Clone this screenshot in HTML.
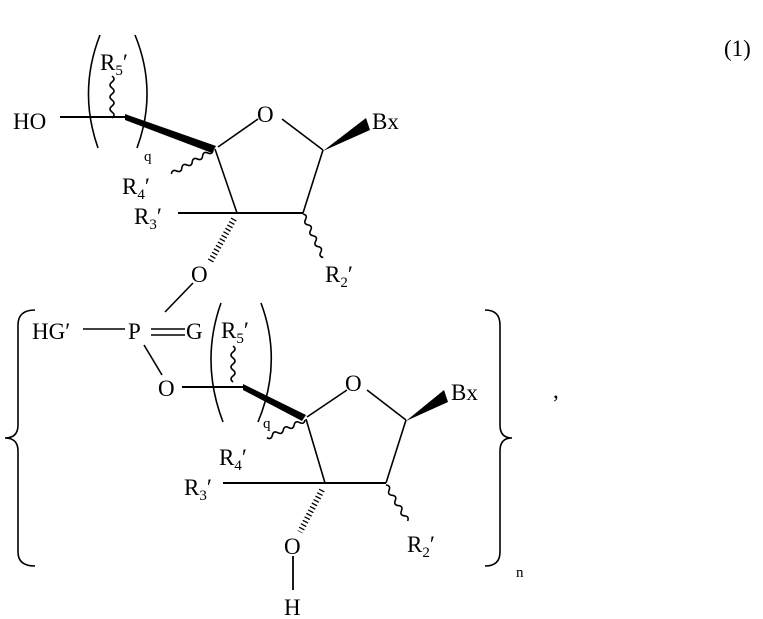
<!DOCTYPE html>
<html><head><meta charset="utf-8"><style>
html,body{margin:0;padding:0;background:#fff;}
svg{display:block}
text{font-family:"Liberation Serif",serif;font-size:23px;fill:#000}
.s{font-size:15px}
</style></head><body>
<svg width="763" height="619" viewBox="0 0 763 619" xmlns="http://www.w3.org/2000/svg">
<g stroke="#000" stroke-width="1.6" fill="none">
<line x1="60" y1="117" x2="126" y2="117" stroke-width="2"/>
<path d="M100 35 Q78 91 98 148"/>
<path d="M135 35 Q158 91 137 148"/>
<line x1="218" y1="147" x2="258" y2="119"/>
<line x1="282" y1="119" x2="323" y2="150"/>
<line x1="323" y1="150" x2="303" y2="213"/>
<line x1="303" y1="213" x2="237" y2="213" stroke-width="2"/>
<line x1="237" y1="213" x2="215" y2="149"/>
<line x1="178" y1="213" x2="237" y2="213" stroke-width="2"/>
<line x1="234" y1="219" x2="210" y2="262" stroke-width="6" stroke-dasharray="1.3 2.6"/>
<line x1="193" y1="283" x2="165" y2="312"/>
<path transform="translate(112,76) rotate(90)" d="M0 0 q3 -4 6 0 t6 0 t6 0 t6 0 t6 0 t6 0 t6 0"/>
<path transform="translate(213,150) rotate(150)" d="M0 0 q3 -4 6 0 t6 0 t6 0 t6 0 t6 0 t6 0 t6 0 t6 0"/>
<path transform="translate(303,214) rotate(65)" d="M0 0 q3 -4 6 0 t6 0 t6 0 t6 0 t6 0 t6 0 t6 0 t6 0"/>
<path d="M35 310 Q18 310 18 325 L18 425 Q18 438 5 438 Q18 438 18 451 L18 552 Q18 566 35 566"/>
<path d="M485 310 Q500 310 500 325 L500 425 Q500 438 512 438 Q500 438 500 451 L500 552 Q500 566 485 566"/>
<line x1="83" y1="329" x2="125" y2="329"/>
<line x1="151" y1="329" x2="185" y2="329"/>
<line x1="151" y1="335" x2="185" y2="335"/>
<line x1="144" y1="345" x2="162" y2="375"/>
<line x1="182" y1="387" x2="243" y2="387" stroke-width="2"/>
<path d="M221 303 Q200 362 223 422"/>
<path d="M261 303 Q283 362 258 422"/>
<line x1="307" y1="417" x2="347" y2="390"/>
<line x1="367" y1="390" x2="406" y2="420"/>
<line x1="406" y1="420" x2="386" y2="483"/>
<line x1="386" y1="483" x2="325" y2="483" stroke-width="2"/>
<line x1="325" y1="483" x2="306" y2="419"/>
<line x1="223" y1="483" x2="325" y2="483" stroke-width="2"/>
<line x1="322" y1="490" x2="300" y2="532" stroke-width="6" stroke-dasharray="1.3 2.6"/>
<line x1="293" y1="556" x2="293" y2="590" stroke-width="1.8"/>
<path transform="translate(233,346) rotate(90)" d="M0 0 q3 -4 6 0 t6 0 t6 0 t6 0 t6 0 t6 0"/>
<path transform="translate(305,420) rotate(155)" d="M0 0 q3 -4 6 0 t6 0 t6 0 t6 0 t6 0 t6 0 t6 0"/>
<path transform="translate(386,485) rotate(59)" d="M0 0 q3 -4 6 0 t6 0 t6 0 t6 0 t6 0 t6 0 t6 0"/>
</g>
<g fill="#000">
<polygon points="125,114 216,146 212,153 125,120"/>
<polygon points="323,151 366,118 370,130"/>
<polygon points="243,384 306,415 302,421 243,390"/>
<polygon points="406,421 444,390 448,402"/>
</g>
<text x="13" y="129">HO</text>
<text x="100" y="70">R<tspan class="s" dy="5">5</tspan><tspan dy="-5">′</tspan></text>
<text x="144" y="161" class="s">q</text>
<text x="257" y="122">O</text>
<text x="372" y="129">Bx</text>
<text x="122" y="194">R<tspan class="s" dy="5">4</tspan><tspan dy="-5">′</tspan></text>
<text x="134" y="224">R<tspan class="s" dy="5">3</tspan><tspan dy="-5">′</tspan></text>
<text x="191" y="282">O</text>
<text x="325" y="282">R<tspan class="s" dy="5">2</tspan><tspan dy="-5">′</tspan></text>
<text x="724" y="56">(1)</text>
<text x="32" y="339">HG′</text>
<text x="128" y="339">P</text>
<text x="186" y="339">G</text>
<text x="221" y="338">R<tspan class="s" dy="5">5</tspan><tspan dy="-5">′</tspan></text>
<text x="158" y="396">O</text>
<text x="263" y="428" class="s">q</text>
<text x="345" y="391">O</text>
<text x="451" y="400">Bx</text>
<text x="219" y="465">R<tspan class="s" dy="5">4</tspan><tspan dy="-5">′</tspan></text>
<text x="184" y="495">R<tspan class="s" dy="5">3</tspan><tspan dy="-5">′</tspan></text>
<text x="284" y="554">O</text>
<text x="407" y="552">R<tspan class="s" dy="5">2</tspan><tspan dy="-5">′</tspan></text>
<text x="284" y="615">H</text>
<text x="516" y="577" class="s">n</text>
<text x="553" y="398">,</text>
</svg>
</body></html>
